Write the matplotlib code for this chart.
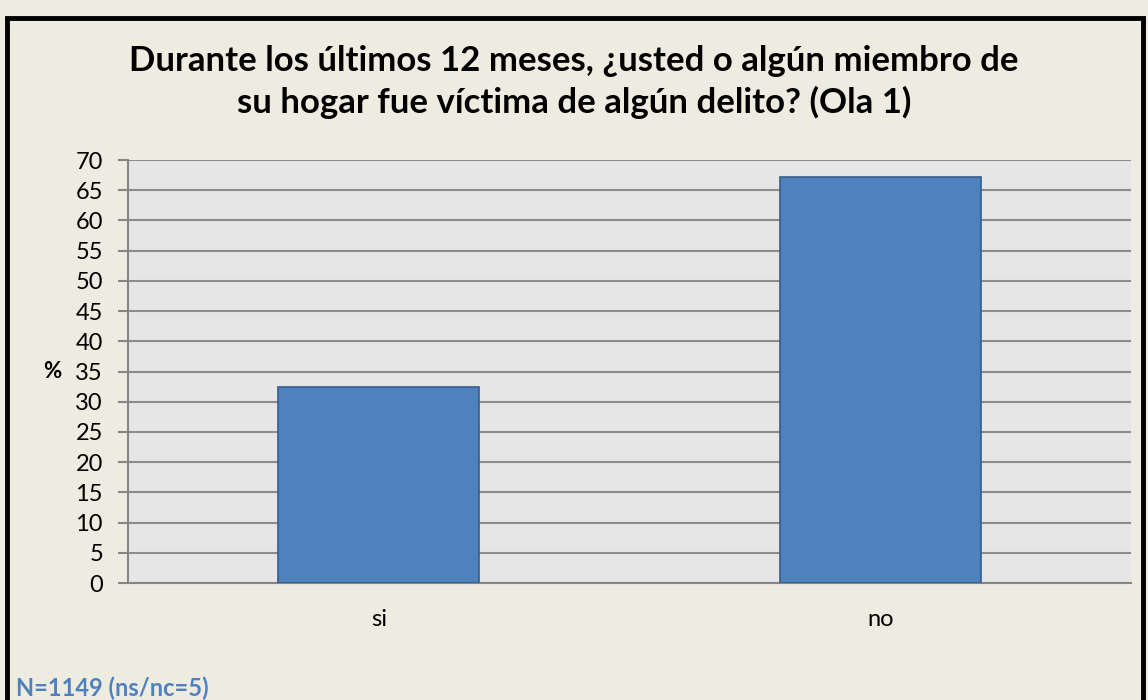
import matplotlib
matplotlib.use("Agg")
import matplotlib.pyplot as plt
from matplotlib.patches import Rectangle

# datos
categorias = ["si", "no"]
porcentajes = [32.5, 67.2]
yticks = list(range(0, 75, 5))

titulo = ("Durante los últimos 12 meses, ¿usted o algún miembro de\n"
          "su hogar fue víctima de algún delito? (Ola 1)")
nota = "N=1149 (ns/nc=5)"

plt.rcParams["font.family"] = ["Lato", "DejaVu Sans"]

fig = plt.figure(figsize=(11.48, 7.0), dpi=100)
fig.patch.set_facecolor("#EEEBE0")

# marco negro alrededor del gráfico
fig.add_artist(Rectangle((0.0065, -0.01), 0.9895, 0.985, transform=fig.transFigure,
                         fill=False, edgecolor="black", linewidth=3.5))

ax = fig.add_axes([0.1115, 0.1671, 0.8737, 0.6043])
ax.set_facecolor("#E6E6E6")

x = list(range(len(categorias)))
ax.bar(x, porcentajes, width=0.4, color="#4F81BD", edgecolor="#385D8A",
       linewidth=1.2, zorder=3)

ax.set_xlim(-0.5, 1.5)
ax.set_ylim(0, 70)
ax.set_yticks(yticks)
ax.set_xticks(x)
ax.set_xticklabels(categorias, fontsize=17)
ax.tick_params(axis="x", length=0, pad=19)
ax.tick_params(axis="y", length=7, color="#868686", width=1.5, labelsize=17, pad=11)

ax.grid(axis="y", color="#8C8C8C", linewidth=1.5, zorder=1)
for s in ["top", "right"]:
    ax.spines[s].set_visible(False)
for s in ["left", "bottom"]:
    ax.spines[s].set_color("#868686")
    ax.spines[s].set_linewidth(1.5)

ax.set_ylabel("%", fontsize=16, fontweight="bold", rotation=0, va="center", ha="center")
ax.yaxis.set_label_coords(-0.076, 0.50)

fig.text(0.5, 0.883, titulo, ha="center", va="center", fontsize=25,
         fontweight="bold", linespacing=1.3)
fig.text(0.014, 0.017, nota, ha="left", va="center", fontsize=17,
         fontweight="bold", color="#4F81BD")

fig.savefig("out.png", dpi=100, facecolor=fig.get_facecolor())
